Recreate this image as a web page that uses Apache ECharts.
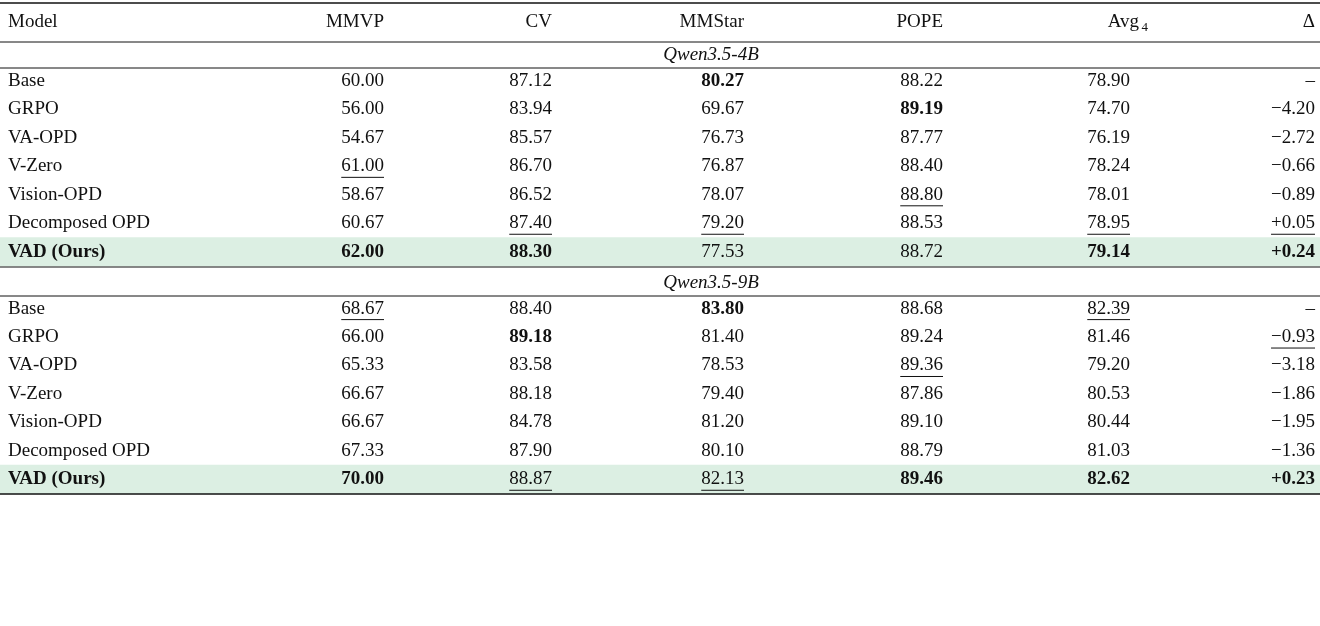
<!DOCTYPE html>
<html><head><meta charset="utf-8">
<script src="https://cdn.jsdelivr.net/npm/echarts@6/dist/echarts.min.js"></script>
<style>html,body{margin:0;background:#fff}#c{width:1320px;height:626px}</style>
</head><body><div id="c"></div>
<script>
const headers = ["Model","MMVP","CV","MMStar","POPE","Avg4","Δ"];
const groups = ["Qwen3.5-4B","Qwen3.5-9B"];
const models = ["Base","GRPO","VA-OPD","V-Zero","Vision-OPD","Decomposed OPD","VAD (Ours)"];
const values4B = [
 [60.00,87.12,80.27,88.22,78.90,null],
 [56.00,83.94,69.67,89.19,74.70,-4.20],
 [54.67,85.57,76.73,87.77,76.19,-2.72],
 [61.00,86.70,76.87,88.40,78.24,-0.66],
 [58.67,86.52,78.07,88.80,78.01,-0.89],
 [60.67,87.40,79.20,88.53,78.95,0.05],
 [62.00,88.30,77.53,88.72,79.14,0.24]];
const marks4B = ["--b---","---b--","------","u-----","---u--","-uu-uu","bb--bb"];
const values9B = [
 [68.67,88.40,83.80,88.68,82.39,null],
 [66.00,89.18,81.40,89.24,81.46,-0.93],
 [65.33,83.58,78.53,89.36,79.20,-3.18],
 [66.67,88.18,79.40,87.86,80.53,-1.86],
 [66.67,84.78,81.20,89.10,80.44,-1.95],
 [67.33,87.90,80.10,88.79,81.03,-1.36],
 [70.00,88.87,82.13,89.46,82.62,0.23]];
const marks9B = ["u-b-u-","-b---u","---u--","------","------","------","buubbb"];

const colX = [8,384,552,744,943,1130,1315];
const FONT = "'Liberation Serif','DejaVu Serif',serif";
const cells = [];
const bands = [];
let row = 0;
headers.forEach((h,i)=>cells.push({x:colX[i]+(i===5?18:0),row:0,text:h,align:i===0?'left':'right',sub:i===5,dy:-2}));
[[values4B,marks4B],[values9B,marks9B]].forEach(([vals,mk],g)=>{
  row++;
  cells.push({x:711,row,text:groups[g],align:'center',italic:true,dy:2.5});
  vals.forEach((r,ri)=>{
    row++;
    const last = ri===vals.length-1;
    if(last) bands.push(row);
    cells.push({x:colX[0],row,text:models[ri],align:'left',bold:last});
    r.forEach((v,ci)=>{
      let t;
      if(v===null) t='–';
      else if(ci===5) t=(v>=0?'+':'−')+Math.abs(v).toFixed(2);
      else t=v.toFixed(2);
      const m=mk[ri][ci];
      cells.push({x:colX[ci+1],row,text:t,align:'right',bold:m==='b',under:m==='u'});
    });
  });
});
const ctx=document.createElement('canvas').getContext('2d');
function tw(c){ctx.font=(c.italic?'italic ':'')+(c.bold?'bold ':'')+'19px '+FONT;return ctx.measureText(c.text).width;}
const chart=echarts.init(document.getElementById('c'));
chart.setOption({
  animation:false,
  grid:{left:0,right:0,top:9.9,bottom:132.5},
  xAxis:{type:'value',min:0,max:1320,show:false},
  yAxis:{type:'category',inverse:true,data:Array.from({length:17},(_,i)=>i),show:false},
  series:[
   {type:'custom',coordinateSystem:'cartesian2d',data:bands.map(b=>[0,b]),z:1,
    renderItem:(p,api)=>{const c=api.coord([0,api.value(1)]);return{type:'rect',shape:{x:0,y:c[1]-14.5,width:1320,height:29},style:{fill:'#dcefe3'}};}},
   {type:'custom',coordinateSystem:'cartesian2d',z:3,data:cells.map(c=>[c.x,c.row]),
    renderItem:(p,api)=>{
      const c=cells[p.dataIndex];const pt=api.coord([api.value(0),api.value(1)]);
      const y=pt[1]+(c.dy||0);
      const children=[];
      if(c.sub){
        children.push({type:'text',style:{x:pt[0]-9,y,text:'Avg',align:'right',verticalAlign:'middle',font:'19px '+FONT,fill:'#111'}});
        children.push({type:'text',style:{x:pt[0],y:y+5,text:'4',align:'right',verticalAlign:'middle',font:'13px '+FONT,fill:'#111'}});
      } else {
        children.push({type:'text',style:{x:pt[0],y,text:c.text,align:c.align,verticalAlign:'middle',
          font:(c.italic?'italic ':'')+(c.bold?'bold ':'')+'19px '+FONT,fill:'#111'}});
      }
      if(c.under){const w=tw(c);children.push({type:'line',shape:{x1:pt[0]-w,y1:y+11,x2:pt[0],y2:y+11},style:{stroke:'#111',lineWidth:1}});}
      return {type:'group',children};
    }}
  ],
  graphic:[3,42,68,267,296,494].map((y,i)=>({type:'line',shape:{x1:0,y1:y,x2:1320,y2:y},style:{stroke:'#111',lineWidth:(i===0||i===5)?1.5:1},z:10}))
});
</script></body></html>
